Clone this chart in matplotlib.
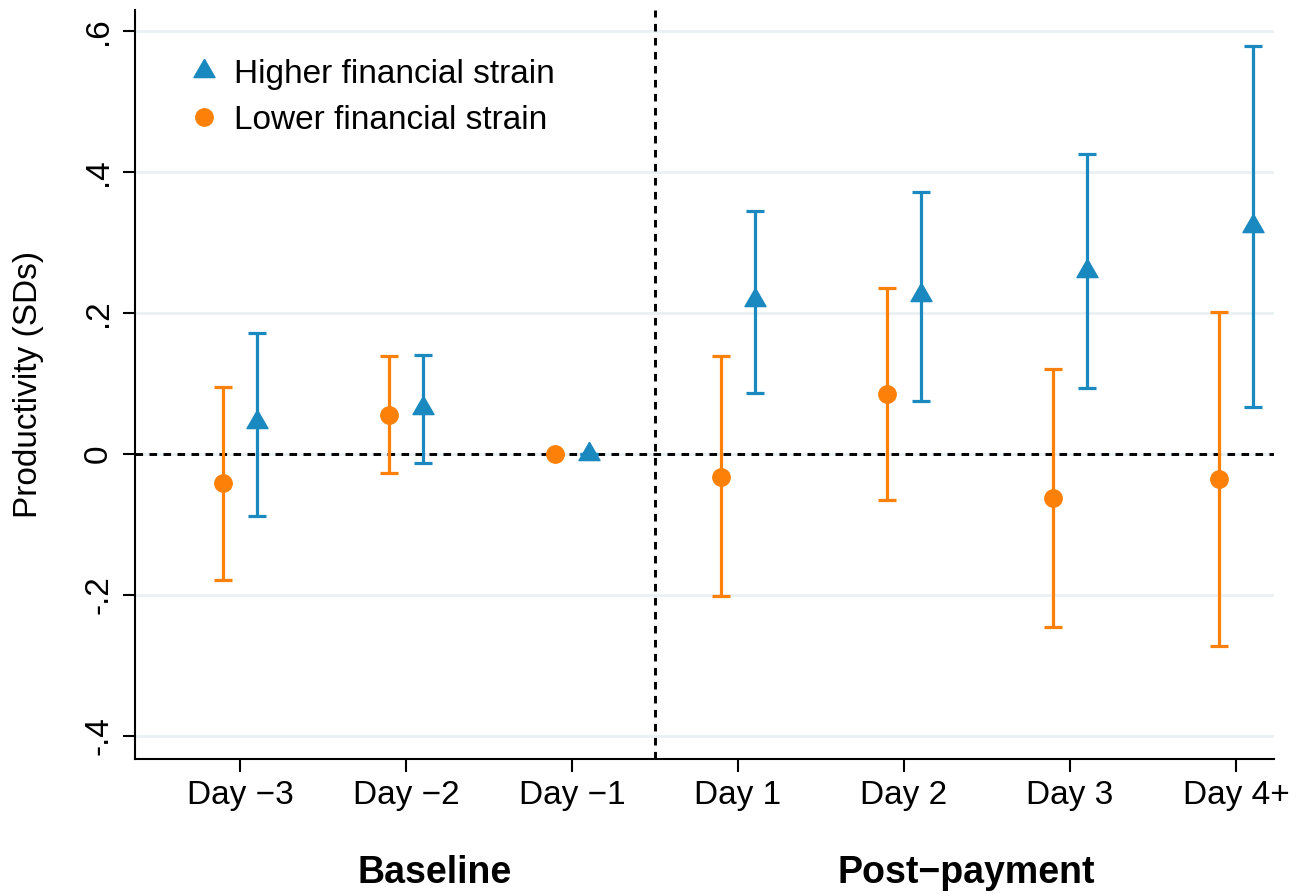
import numpy as np
import matplotlib
matplotlib.use("Agg")
import matplotlib.pyplot as plt
from matplotlib.lines import Line2D
from matplotlib import font_manager

plt.rcParams['font.family'] = ['Liberation Sans', 'DejaVu Sans']

# ---------------------------------------------------------
# Data
# ---------------------------------------------------------
days = ["Day \u22123", "Day \u22122", "Day \u22121", "Day 1", "Day 2", "Day 3", "Day 4+"]

low_est = [-0.041, 0.055, 0.0, -0.033, 0.085, -0.062, -0.035]
low_lo = [-0.178, -0.027, 0.0, -0.202, -0.065, -0.246, -0.273]
low_hi = [0.095, 0.139, 0.0, 0.139, 0.235, 0.120, 0.202]

high_est = [0.045, 0.065, 0.0, 0.218, 0.226, 0.260, 0.323]
high_lo = [-0.088, -0.013, 0.0, 0.086, 0.075, 0.093, 0.067]
high_hi = [0.171, 0.140, 0.0, 0.345, 0.372, 0.426, 0.579]

yticks = [-0.4, -0.2, 0, 0.2, 0.4, 0.6]
ytick_labels = ["-.4", "-.2", "0", ".2", ".4", ".6"]

BLUE = "#1a89bf"
ORANGE = "#fd8008"

# equilateral triangle marker (Stata style)
TRI = [(0, 1), (-0.866, -0.5), (0.866, -0.5), (0, 1)]

# narrow bold font for the group labels, if available
names = {f.name for f in font_manager.fontManager.ttflist}
narrow = 'Liberation Sans Narrow' if 'Liberation Sans Narrow' in names else 'Liberation Sans'

# ---------------------------------------------------------
# Plot
# ---------------------------------------------------------
fig = plt.figure(figsize=(13.04, 8.94), dpi=100)
ax = fig.add_axes([0.1035, 0.151, 0.8735, 0.838])

x = np.arange(len(days))
low_est = np.array(low_est)
high_est = np.array(high_est)
low_err = [low_est - np.array(low_lo), np.array(low_hi) - low_est]
high_err = [high_est - np.array(high_lo), np.array(high_hi) - high_est]

for yv in yticks:
    ax.axhline(yv, color="#eaf1f3", lw=2, zorder=0)

ax.axhline(0, color="black", lw=2.1, ls=(0, (2.6, 2.2)), zorder=1)
ax.axvline(2.5, color="black", lw=2.1, ls=(0, (2.6, 2.2)), zorder=1)

ax.errorbar(x - 0.1, low_est, yerr=low_err, fmt="o", color=ORANGE,
            ms=12.5, elinewidth=2.3, capsize=6.2, capthick=2.3, zorder=3)
ax.errorbar(x + 0.1, high_est, yerr=high_err, fmt="none", ecolor=BLUE,
            elinewidth=2.3, capsize=6.2, capthick=2.3, zorder=3)
ax.plot(x + 0.1, high_est, ls="none", marker=TRI, color=BLUE, ms=17.5, zorder=4)

ax.set_xlim(-0.633, 6.229)
ax.set_ylim(-0.4326, 0.63)
ax.set_xticks(x)
ax.set_xticklabels(days, fontsize=24)
ax.set_yticks(yticks)
ax.set_yticklabels(ytick_labels, fontsize=24, rotation=90, va="center")
ax.tick_params(axis="both", length=9, width=1.5, pad=6)
ax.set_ylabel("Productivity (SDs)", fontsize=24, labelpad=28)

for s in ["top", "right"]:
    ax.spines[s].set_visible(False)
for s in ["left", "bottom"]:
    ax.spines[s].set_linewidth(1.5)

handles = [
    Line2D([], [], marker=TRI, color=BLUE, ls="none", ms=17.5),
    Line2D([], [], marker="o", color=ORANGE, ls="none", ms=12.5),
]
ax.legend(handles, ["Higher financial strain", "Lower financial strain"],
          loc="upper left", bbox_to_anchor=(0.011, 0.975), frameon=False,
          fontsize=24, handletextpad=0.1, labelspacing=0.45, handlelength=1.6)

fig.text(0.333, 0.024, "Baseline", fontsize=27, fontweight="bold",
         family=[narrow, 'DejaVu Sans'], ha="center", va="center")
fig.text(0.741, 0.024, "Post\u2212payment", fontsize=27, fontweight="bold",
         family=[narrow, 'DejaVu Sans'], ha="center", va="center")

fig.savefig("out.png", dpi=100)
